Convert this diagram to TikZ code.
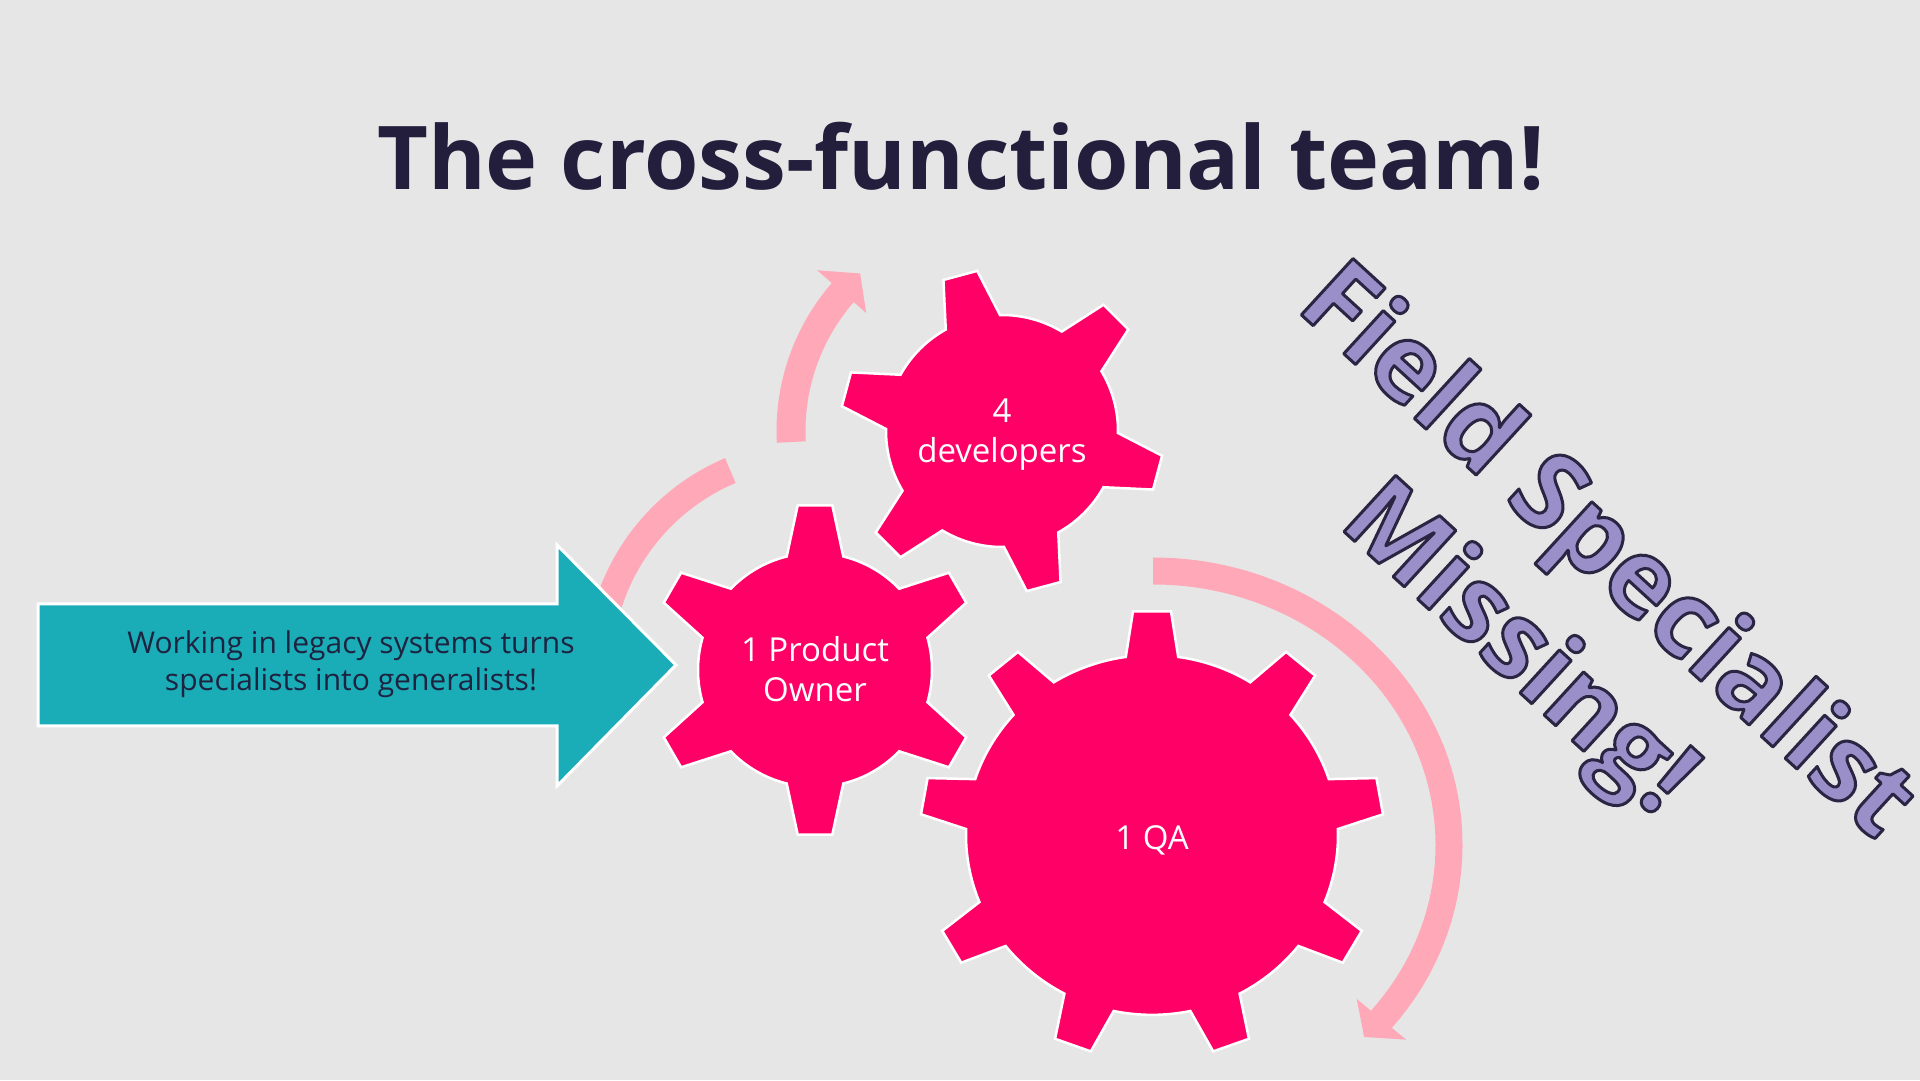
\documentclass[tikz,border=0pt]{standalone}
\usepackage{fontspec}
\setmainfont{Open Sans}
\definecolor{bgc}{HTML}{E6E6E6}
\definecolor{gearpink}{HTML}{FF0066}
\definecolor{bandpink}{HTML}{FFA9B8}
\definecolor{tealc}{HTML}{1AADB8}
\definecolor{titlec}{HTML}{221E3C}
\definecolor{navytext}{HTML}{1E2340}
\definecolor{fsfill}{HTML}{9A8FC8}
\definecolor{fsline}{HTML}{2A2542}
\newcommand\outlineon{\special{pdf:literal direct 2 Tr 3 w 1 j 0.165 0.145 0.259 RG}}
\newcommand\outlineoff{\special{pdf:literal direct 0 Tr}}
\tikzset{
  gearshape/.style={fill=gearpink, draw=white, line width=2.5pt, line join=miter},
  pinkband/.style={fill=bandpink},
  tealarrow/.style={fill=tealc, draw=white, line width=3pt, line join=miter},
  geartext/.style={text=white, font=\fontsize{33}{40}\selectfont, align=center, inner sep=0pt},
  arrowtext/.style={text=navytext, font=\fontsize{30}{37}\selectfont, align=center, inner sep=0pt},
  titlestyle/.style={text=titlec, font=\fontsize{88}{100}\selectfont\bfseries, inner sep=0pt},
  fstext/.style={font=\fontsize{107}{131}\selectfont\bfseries, align=center, inner sep=0pt, rotate=-42.5},
}
\newcommand\mygear[9]{%
  \begin{scope}[shift={(#1,#2)}, yscale=#3]
    \pgfmathsetmacro\gstep{360/#4}
    \pgfmathtruncatemacro\glast{#4-1}
    \draw[gearshape] ({#5-#9}:#6)
      \foreach \k in {0,...,\glast}{
        -- ({#5+\k*\gstep-#9}:#6) -- ({#5+\k*\gstep-#8}:#7)
        -- ({#5+\k*\gstep+#8}:#7) -- ({#5+\k*\gstep+#9}:#6)
        arc[start angle={#5+\k*\gstep+#9}, end angle={#5+(\k+1)*\gstep-#9}, radius=#6]
      } -- cycle;
  \end{scope}}
\begin{document}
\begin{tikzpicture}[x=1pt,y=1pt]
  \fill[bgc] (0,0) rectangle (1920,1080);
  \useasboundingbox (0,0) rectangle (1920,1080);

  % title
  \node[titlestyle, anchor=base] (title) at (961,890) {The cross-functional team!};

  % pink rotation bands
  \begin{scope}[shift={(815,410)}]
    \fill[pinkband] (113:230.2) arc[start angle=113, end angle=185, radius=230.2]
      -- (185:203.2) arc[start angle=185, end angle=113, radius=203.2] -- cycle;
  \end{scope}
  \begin{scope}[shift={(1002,649)}]
    \fill[pinkband] (183:225.5) arc[start angle=183, end angle=139, radius=225.5]
      -- (139:245) -- (132:212) -- (139:180) -- (139:196.5)
      arc[start angle=139, end angle=183, radius=196.5] -- cycle;
  \end{scope}
  \begin{scope}[shift={(1153,235)}]
    \fill[pinkband] (0,287.5) arc[start angle=90, end angle=-39.5, x radius=309.5, y radius=287.5]
      -- ({cos(-39.5)*328},{sin(-39.5)*306})
      -- ({cos(-44.5)*296},{sin(-44.5)*274})
      -- ({cos(-39.5)*264},{sin(-39.5)*242})
      -- ({cos(-39.5)*282.5},{sin(-39.5)*260.5})
      arc[start angle=-39.5, end angle=90, x radius=282.5, y radius=260.5] -- cycle;
  \end{scope}

  % teal arrow
  \draw[tealarrow] (38,476) -- (557,476) -- (557,535) -- (676,415) -- (557,294)
    -- (557,354) -- (38,354) -- cycle;
  \node[arrowtext] (legacy) at (351,416) {Working in legacy systems turns\\specialists into generalists!};

  % gears
  \mygear{815}{410}{1}{6}{90}{117}{165.5}{6}{14}
  \mygear{1002}{649}{1}{6}{45}{116}{162}{6.2}{14}
  \mygear{1152}{245}{0.967}{9}{90}{186}{232}{4.7}{8.1}

  \node[geartext] (po) at (815,411) {1 Product\\Owner};
  \node[geartext] (dev) at (1002,645) {4\\developers};
  \node[geartext] (qa) at (1152,240) {1 QA};

  % Field Specialist Missing!
  \node[fstext, text=fsfill] (fs) at (1560,477) {\outlineon Field Specialist\\Missing!\outlineoff};
\end{tikzpicture}
\end{document}
